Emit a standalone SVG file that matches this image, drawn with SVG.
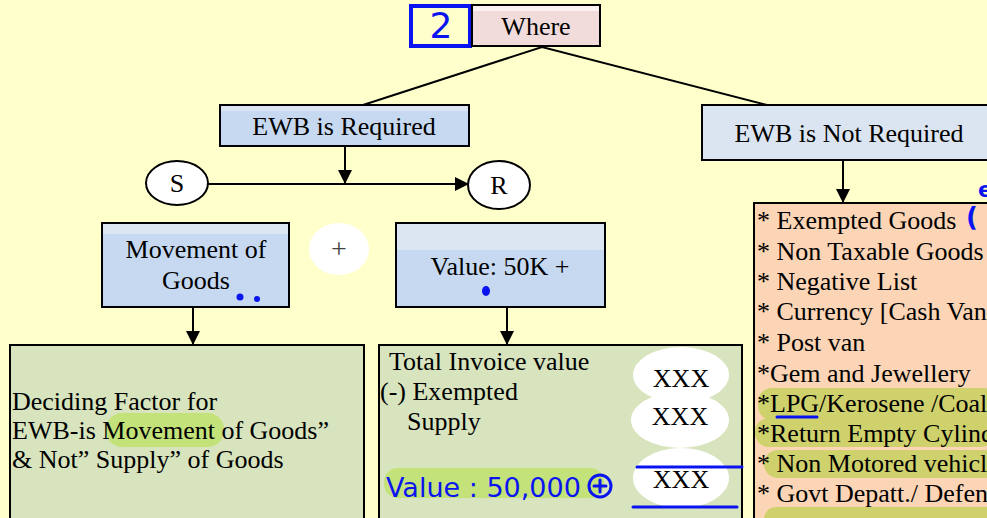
<svg xmlns="http://www.w3.org/2000/svg" width="987" height="518" viewBox="0 0 987 518">
  <defs>
    <marker id="arrow" viewBox="0 0 14 14" refX="13" refY="7" markerWidth="14" markerHeight="14" markerUnits="userSpaceOnUse" orient="auto">
      <path d="M0,0 L14,7 L0,14 Z" fill="#000"/>
    </marker>
    <style>
      .box { stroke: #000; stroke-width: 2; }
      .t { font-family: "Liberation Serif", "Times New Roman", serif; font-size: 26px; fill: #000; }
      .mid { text-anchor: middle; }
      .line { stroke: #000; stroke-width: 2; fill: none; }
      .ink { fill: #0a14f0; font-family: "DejaVu Sans", sans-serif; }
      .inkline { stroke: #0a14f0; stroke-width: 3; fill: none; stroke-linecap: round; }
      .hl-green { fill: #c4e27a; }
      .hl-olive { fill: #cfd16c; }
      .oval { fill: #fff; }
    </style>
  </defs>

  <!-- page background -->
  <rect width="987" height="518" fill="#ffffcc"/>

  <!-- connectors -->
  <g id="connectors">
    <polyline class="line" points="363,105 542,47 767,105"/>
    <line class="line" x1="345" y1="146" x2="345" y2="183" marker-end="url(#arrow)"/>
    <line class="line" x1="208" y1="184" x2="468" y2="184" marker-end="url(#arrow)"/>
    <line class="line" x1="843" y1="160" x2="843" y2="202" marker-end="url(#arrow)"/>
    <line class="line" x1="193" y1="307" x2="193" y2="344" marker-end="url(#arrow)"/>
    <line class="line" x1="507" y1="307" x2="507" y2="344" marker-end="url(#arrow)"/>
  </g>

  <!-- step marker -->
  <g id="step-2">
    <rect x="411" y="6" width="59" height="40" fill="none" stroke="#0a14f0" stroke-width="4"/>
    <text class="ink mid" x="441" y="38" font-size="36">2</text>
  </g>

  <!-- root -->
  <g id="where">
    <rect class="box" x="472" y="5" width="128" height="41" fill="#f2dcdb"/>
    <rect x="473" y="6" width="126" height="5" fill="#fbf1f1"/>
    <text class="t mid" x="536" y="35">Where</text>
  </g>

  <g id="ewb-required">
    <rect class="box" x="220" y="105" width="249" height="41" fill="#c6d9f1"/>
    <rect x="221" y="106" width="247" height="5" fill="#dbe5f1"/>
    <text class="t mid" x="344" y="135">EWB is Required</text>
  </g>

  <g id="ewb-not-required">
    <rect class="box" x="702" y="105" width="300" height="55" fill="#dbe5f1"/>
    <text class="t mid" x="849" y="142">EWB is Not Required</text>
  </g>

  <!-- supplier / recipient -->
  <g id="supplier">
    <ellipse class="box" cx="177" cy="183" rx="31" ry="22" fill="#fff"/>
    <text class="t mid" x="177" y="192">S</text>
  </g>
  <g id="recipient">
    <ellipse class="box" cx="499" cy="185" rx="31" ry="24" fill="#fff"/>
    <text class="t mid" x="499" y="194">R</text>
  </g>

  <!-- conditions -->
  <g id="movement">
    <rect class="box" x="102" y="223" width="187" height="84" fill="#c6d9f1"/>
    <rect x="103" y="224" width="185" height="10" fill="#dce6f2"/>
    <text class="t mid" x="196" y="258">Movement of</text>
    <text class="t mid" x="196" y="289">Goods</text>
    <circle cx="240" cy="297" r="3.5" fill="#0a14f0"/>
    <circle cx="257" cy="299" r="3" fill="#0a14f0"/>
  </g>

  <g id="plus">
    <ellipse cx="339" cy="249" rx="30" ry="26" fill="#fff"/>
    <text class="mid" x="339" y="258" font-family="Liberation Serif, serif" font-size="28" fill="#404040">+</text>
  </g>

  <g id="value">
    <rect class="box" x="396" y="223" width="209" height="84" fill="#c6d9f1"/>
    <rect x="397" y="224" width="207" height="26" fill="#dce6f2"/>
    <text class="t mid" x="500" y="275">Value: 50K +</text>
    <ellipse cx="486" cy="291" rx="4" ry="5" fill="#0a14f0"/>
  </g>

  <!-- outcomes -->
  <g id="deciding-factor">
    <rect class="box" x="10" y="345" width="354" height="185" fill="#d7e4bd"/>
    <rect class="hl-green" x="106" y="413" width="118" height="34" rx="16"/>
    <text class="t" x="12" y="410">Deciding Factor for</text>
    <text class="t" x="12" y="439">EWB-is Movement of Goods”</text>
    <text class="t" x="12" y="468">&amp; Not” Supply” of Goods</text>
  </g>

  <g id="invoice-value">
    <rect class="box" x="379" y="345" width="363" height="185" fill="#d7e4bd"/>
    <text class="t" x="389" y="370">Total Invoice value</text>
    <text class="t" x="380" y="400">(-) Exempted</text>
    <text class="t" x="407" y="430">Supply</text>
    <ellipse class="oval" cx="681" cy="375" rx="48" ry="28"/>
    <ellipse class="oval" cx="680" cy="420" rx="49" ry="28"/>
    <ellipse class="oval" cx="681" cy="478" rx="48" ry="30"/>
    <text class="t mid" x="681" y="387">XXX</text>
    <text class="t mid" x="680" y="425">XXX</text>
    <text class="t mid" x="681" y="488">XXX</text>
    <line class="inkline" x1="637" y1="467" x2="742" y2="467"/>
    <line class="inkline" x1="633" y1="507" x2="737" y2="507"/>
    <rect class="hl-green" x="384" y="468" width="220" height="30" rx="14"/>
    <text class="ink" x="386" y="497" font-size="27">Value : 50,000</text>
    <circle cx="600" cy="486" r="11" fill="none" stroke="#0a14f0" stroke-width="3"/>
    <path class="inkline" d="M594,486 H606 M600,480 V492"/>
  </g>

  <g id="exemptions">
    <rect class="box" x="754" y="203" width="260" height="330" fill="#fbd5b5"/>
    <rect class="hl-olive" x="758" y="388" width="240" height="32" rx="14"/>
    <rect class="hl-olive" x="755" y="418" width="240" height="29" rx="14"/>
    <rect class="hl-olive" x="764" y="450" width="235" height="28" rx="14"/>
    <rect class="hl-olive" x="764" y="507" width="235" height="25" rx="12"/>
    <text class="t" x="757" y="229">* Exempted Goods</text>
    <text class="t" x="757" y="260">* Non Taxable Goods</text>
    <text class="t" x="757" y="290">* Negative List</text>
    <text class="t" x="757" y="320">* Currency [Cash Van]</text>
    <text class="t" x="757" y="351">* Post van</text>
    <text class="t" x="757" y="382">*Gem and Jewellery</text>
    <text class="t" x="757" y="412">*LPG/Kerosene /Coal</text>
    <text class="t" x="757" y="442">*Return Empty Cylinders</text>
    <text class="t" x="757" y="472">* Non Motored vehicle</text>
    <text class="t" x="757" y="502">* Govt Depatt./ Defence</text>
    <line class="inkline" x1="777" y1="417" x2="817" y2="417"/>
    <text class="ink" x="966" y="226" font-size="26" font-weight="bold">(</text>
    <text class="ink" x="978" y="197" font-size="22" font-weight="bold">e</text>
  </g>
</svg>
